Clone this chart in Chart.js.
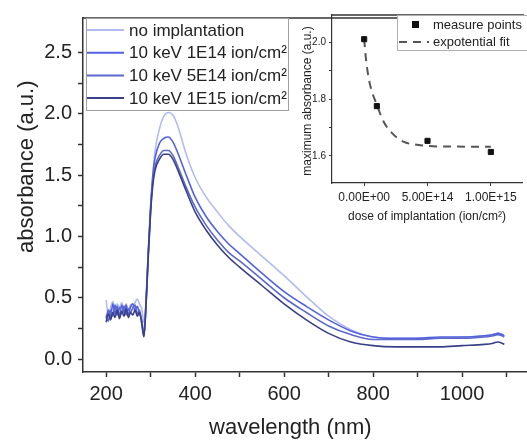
<!DOCTYPE html>
<html><head><meta charset="utf-8">
<script src="https://cdn.jsdelivr.net/npm/chart.js@4"></script>
<style>
html,body{margin:0;padding:0;background:#fff;}
#wrap{position:relative;width:527px;height:444px;overflow:hidden;}
#main{position:absolute;left:0;top:0;}
#inset{position:absolute;left:290px;top:0;}
</style></head><body>
<div id="wrap"><canvas id="main" width="527" height="444"></canvas><canvas id="inset" width="237" height="230"></canvas></div>
<script>
// ---------- main chart data ----------
const wavelength = [200,205,210,215,220,225,230,235,240,245,250,255,260,265,270,275,280,285,290,295,300,305,310,320,330,340,350,360,380,400,425,450,475,500,550,600,650,700,750,800,850,900,950,1000,1050,1070,1080,1090,1095];
const absNoImpl = [0.48,0.36,0.42,0.47,0.41,0.45,0.42,0.46,0.41,0.45,0.40,0.44,0.42,0.46,0.49,0.45,0.41,0.30,0.48,0.85,1.20,1.50,1.70,1.88,1.98,2.01,1.99,1.91,1.67,1.48,1.32,1.20,1.09,1.00,0.84,0.68,0.51,0.35,0.24,0.18,0.17,0.17,0.17,0.18,0.19,0.20,0.21,0.20,0.19];
const abs1E14 = [0.33,0.40,0.34,0.45,0.37,0.43,0.35,0.44,0.38,0.44,0.36,0.43,0.45,0.39,0.43,0.37,0.32,0.20,0.50,0.90,1.25,1.50,1.64,1.76,1.80,1.81,1.77,1.69,1.50,1.32,1.16,1.04,0.94,0.86,0.70,0.55,0.43,0.32,0.23,0.18,0.17,0.17,0.18,0.18,0.19,0.20,0.21,0.20,0.19];
const abs5E14 = [0.36,0.31,0.40,0.35,0.44,0.36,0.42,0.37,0.43,0.36,0.41,0.38,0.42,0.44,0.37,0.40,0.30,0.19,0.48,0.88,1.22,1.45,1.57,1.66,1.70,1.70,1.66,1.58,1.40,1.24,1.09,0.97,0.87,0.80,0.65,0.50,0.38,0.27,0.20,0.16,0.16,0.16,0.17,0.17,0.18,0.19,0.20,0.19,0.18];
const abs1E15 = [0.30,0.37,0.32,0.38,0.34,0.40,0.33,0.39,0.35,0.41,0.34,0.38,0.36,0.40,0.35,0.38,0.29,0.18,0.46,0.86,1.20,1.42,1.54,1.63,1.67,1.67,1.63,1.55,1.37,1.20,1.05,0.93,0.83,0.75,0.60,0.45,0.32,0.21,0.14,0.11,0.10,0.10,0.10,0.11,0.12,0.13,0.14,0.13,0.12];
const seriesLabels = ['no implantation','10 keV 1E14 ion/cm\u00B2','10 keV 5E14 ion/cm\u00B2','10 keV 1E15 ion/cm\u00B2'];
const xMajorTicks = [200,400,600,800,1000];
const xMinorTicks = [300,500,700,900,1100];
const yMajorTicks = [0,0.5,1.0,1.5,2.0,2.5];
const yMinorTicks = [0.25,0.75,1.25,1.75,2.25];
const xTitle = 'wavelength (nm)';
const yTitle = 'absorbance (a.u.)';

// ---------- inset data ----------
const doses = [0,1e14,5e14,1e15];
const maxAbs = [2.01,1.775,1.653,1.614];
const fitDose = [0,0.15e14,0.44e14,1e14,1.54e14,2.2e14,3.1e14,4.2e14,5e14,7e14,1e15];
const fitAbs = [2.01,1.937,1.855,1.78,1.72,1.68,1.65,1.639,1.635,1.633,1.632];
const insetXTicks = [0,5e14,1e15];
const insetXTickLabels = ['0.00E+00','5.00E+14','1.00E+15'];
const insetYTicks = [1.6,1.8,2.0];
const insetYMinor = [1.7,1.9];
const insetLegend = ['measure points','expotential fit'];
const insetXTitle = 'dose of implantation (ion/cm\u00B2)';
const insetYTitle = 'maximum absorbance (a.u.)';

const FONT = '"Liberation Sans", Arial, Helvetica, sans-serif';
const colors = ['#b3bbf3','#5262e0','#5c68cc','#3a4088'];
Chart.defaults.font.family = FONT;
Chart.defaults.color = '#222';

function toXY(xs, ys){ return xs.map((x,i)=>({x:x,y:ys[i]})); }
function tickSetter(major, minor){
  return function(scale){ scale.ticks = major.concat(minor).sort((a,b)=>a-b).map(v=>({value:v})); };
}
function isMajor(list, v){ return list.some(m=>Math.abs(m-v)<1e-6*Math.max(1,Math.abs(m))); }

const mainDecor = {
  id:'mainDecor',
  afterDraw(chart){
    const ctx = chart.ctx, a = chart.chartArea;
    ctx.save();
    ctx.strokeStyle = '#333'; ctx.lineWidth = 1.5;
    ctx.beginPath(); ctx.moveTo(a.left, a.top); ctx.lineTo(a.right+2, a.top); ctx.stroke();
    // legend
    const lx = a.left + 3, ly = a.top;
    ctx.fillStyle = '#fff'; ctx.fillRect(lx, ly+1, 202, 91);
    ctx.strokeStyle = '#a0a0a0'; ctx.lineWidth = 1;
    ctx.strokeRect(lx+0.5, ly+0.5, 202, 92);
    ctx.font = '17px ' + FONT; ctx.textAlign = 'left'; ctx.textBaseline = 'middle';
    chart.data.datasets.forEach((ds,i)=>{
      const y = ly + 12 + i*22.7;
      ctx.strokeStyle = ds.borderColor; ctx.lineWidth = 2;
      ctx.beginPath(); ctx.moveTo(lx+1, y); ctx.lineTo(lx+38, y); ctx.stroke();
      ctx.fillStyle = '#222'; ctx.fillText(ds.label, lx+43, y+1);
    });
    // axis titles
    ctx.fillStyle = '#222'; ctx.font = '22px ' + FONT; ctx.textAlign = 'center';
    ctx.fillText(xTitle, a.left + (a.right-a.left)*0.467, a.bottom + 56);
    ctx.translate(27, a.top + (a.bottom-a.top)*0.42);
    ctx.rotate(-Math.PI/2);
    ctx.fillText(yTitle, 0, 0);
    ctx.restore();
  }
};

new Chart(document.getElementById('main'), {
  type:'line',
  data:{ datasets:[absNoImpl,abs1E14,abs5E14,abs1E15].map((arr,i)=>({
    label: seriesLabels[i], data: toXY(wavelength, arr), borderColor: colors[i],
    borderWidth: 1.6, pointRadius: 0, fill:false, cubicInterpolationMode:'monotone', order: 4-i
  }))},
  options:{
    responsive:false, animation:false, devicePixelRatio:1,
    layout:{padding:{top:15,right:0,left:0,bottom:0}},
    plugins:{legend:{display:false}, tooltip:{enabled:false}},
    scales:{
      x:{ type:'linear', min:148, max:1146,
        afterBuildTicks: tickSetter(xMajorTicks, xMinorTicks),
        afterFit(s){ s.height = 72; },
        border:{display:true,color:'#333',width:1.5},
        grid:{display:true,drawOnChartArea:false,drawTicks:true,tickLength:5,tickColor:'#333',tickWidth:1.5},
        ticks:{autoSkip:false,maxRotation:0,padding:5,font:{size:20},color:'#222',
          callback:(v)=> isMajor(xMajorTicks,v) ? String(v) : ''}
      },
      y:{ type:'linear', min:-0.105, max:2.78,
        afterBuildTicks: tickSetter(yMajorTicks, yMinorTicks),
        afterFit(s){ s.width = 83; },
        border:{display:true,color:'#333',width:1.5},
        grid:{display:true,drawOnChartArea:false,drawTicks:true,tickLength:5,tickColor:'#333',tickWidth:1.5},
        ticks:{autoSkip:false,padding:6,font:{size:20},color:'#222',
          callback:(v)=> isMajor(yMajorTicks,v) ? v.toFixed(1) : ''}
      }
    }
  },
  plugins:[mainDecor]
});

const insetDecor = {
  id:'insetDecor',
  afterDraw(chart){
    const ctx = chart.ctx, a = chart.chartArea;
    ctx.save();
    ctx.strokeStyle = '#333'; ctx.lineWidth = 1.5;
    ctx.beginPath(); ctx.moveTo(a.left, a.top); ctx.lineTo(a.right+2, a.top); ctx.stroke();
    // legend
    const lx = a.left + 65, ly = a.top;
    ctx.fillStyle = '#fff'; ctx.fillRect(lx, ly+1, 140, 34);
    ctx.strokeStyle = '#b0b0b0'; ctx.lineWidth = 1;
    ctx.strokeRect(lx+0.5, ly+0.5, 140, 35);
    ctx.font = '13px ' + FONT; ctx.textAlign = 'left'; ctx.textBaseline = 'middle';
    ctx.fillStyle = '#111'; ctx.fillRect(lx+15, ly+6, 7, 7);
    ctx.fillStyle = '#222'; ctx.fillText(insetLegend[0], lx+36, ly+10);
    ctx.strokeStyle = '#555'; ctx.lineWidth = 2; ctx.setLineDash([8,6]);
    ctx.beginPath(); ctx.moveTo(lx+2, ly+27); ctx.lineTo(lx+32, ly+27); ctx.stroke();
    ctx.setLineDash([]);
    ctx.fillText(insetLegend[1], lx+36, ly+27);
    // titles
    ctx.font = '12px ' + FONT; ctx.textAlign = 'center';
    ctx.fillText(insetXTitle, (a.left+a.right)/2, a.bottom + 34);
    ctx.translate(18, (a.top+a.bottom)/2 + 2);
    ctx.rotate(-Math.PI/2);
    ctx.fillText(insetYTitle, 0, 0);
    ctx.restore();
  }
};

new Chart(document.getElementById('inset'), {
  type:'scatter',
  data:{ datasets:[
    { label: insetLegend[0], data: toXY(doses, maxAbs), pointStyle:'rect', pointRadius:3.6,
      backgroundColor:'#111', borderColor:'#111', showLine:false },
    { label: insetLegend[1], data: toXY(fitDose, fitAbs), showLine:true, borderColor:'#555',
      borderWidth:2, borderDash:[8,6], pointRadius:0, cubicInterpolationMode:'monotone', fill:false }
  ]},
  options:{
    responsive:false, animation:false, devicePixelRatio:1,
    layout:{padding:{top:15,right:0,left:0,bottom:0}},
    plugins:{legend:{display:false}, tooltip:{enabled:false}},
    scales:{
      x:{ type:'linear', min:-0.254e15, max:1.246e15,
        afterBuildTicks: tickSetter(insetXTicks, []),
        afterFit(s){ s.height = 47; },
        border:{display:true,color:'#333',width:1.2},
        grid:{display:true,drawOnChartArea:false,drawTicks:true,tickLength:3,tickColor:'#333',tickWidth:1},
        ticks:{autoSkip:false,maxRotation:0,padding:4,font:{size:12},color:'#222',
          callback:(v)=>{ const i = insetXTicks.findIndex(t=>Math.abs(t-v)<1e9); return i>=0 ? insetXTickLabels[i] : ''; }}
      },
      y:{ type:'linear', min:1.505, max:2.095,
        afterBuildTicks: tickSetter(insetYTicks, insetYMinor),
        afterFit(s){ s.width = 42; },
        border:{display:true,color:'#333',width:1.2},
        grid:{display:true,drawOnChartArea:false,drawTicks:true,tickLength:3,tickColor:'#333',tickWidth:1},
        ticks:{autoSkip:false,padding:3,font:{size:10},color:'#222',
          callback:(v)=> isMajor(insetYTicks,v) ? v.toFixed(1) : ''}
      }
    }
  },
  plugins:[insetDecor]
});
</script>
</body></html>
